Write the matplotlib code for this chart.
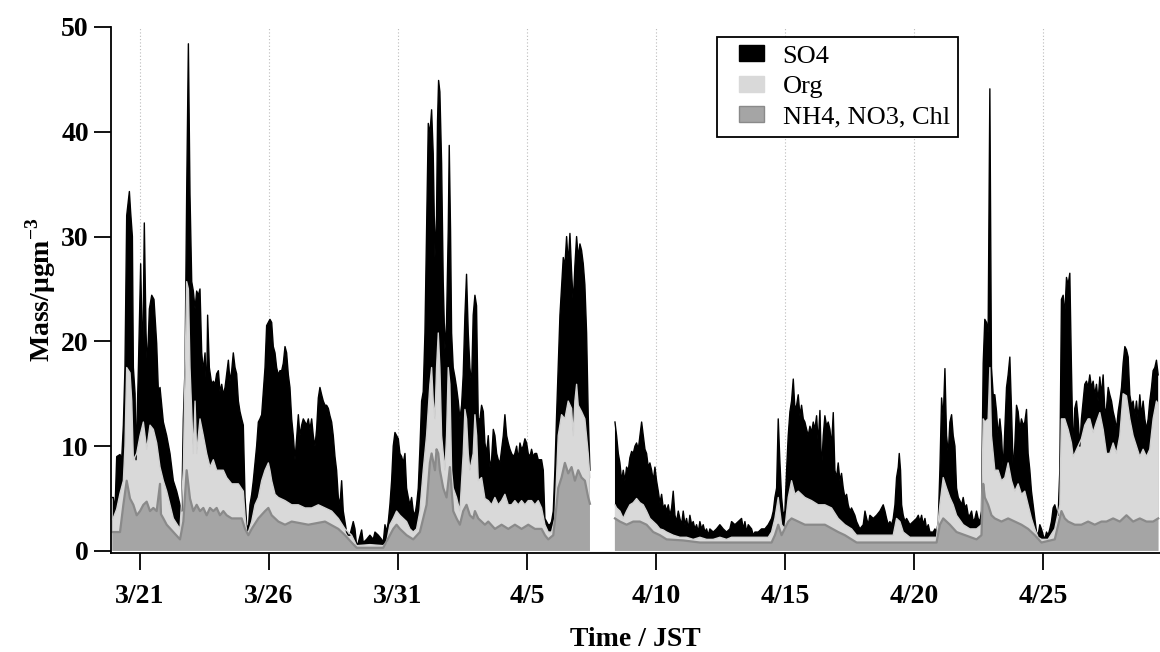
import numpy as np
import matplotlib.pyplot as plt
from matplotlib.patches import Patch, Rectangle
from matplotlib.legend_handler import HandlerPatch

plt.rcParams['font.family'] = ['Liberation Serif', 'DejaVu Serif']
plt.rcParams['mathtext.fontset'] = 'custom'
plt.rcParams['mathtext.rm'] = 'Liberation Serif'
plt.rcParams['mathtext.bf'] = 'Liberation Serif:bold'

# (hours since 3/21 00:00 JST, top of layer in ug/m3)
total_top = [
    (-25.4, 5.1), (-24.8, 5.1), (-23.3, 3.8), (-21.7, 9.0), (-18.6, 9.2), (-17.1, 8.7), (-15.5, 12.0),
    (-14.0, 17.5), (-12.4, 32.0), (-9.9, 34.3), (-8.7, 32.3), (-7.1, 30.0), (-6.2, 17.5), (-4.6, 15.0),
    (-3.7, 8.7), (-1.5, 17.5), (0.6, 27.4), (2.5, 17.5), (4.0, 31.3), (5.6, 20.8), (6.8, 17.5),
    (8.7, 23.1), (10.9, 24.4), (13.0, 24.0), (15.5, 19.8), (17.1, 15.2), (18.6, 15.6), (21.7, 12.3),
    (24.8, 11.0), (27.9, 9.3), (31.0, 6.7), (34.1, 5.7), (37.2, 4.4), (38.8, 3.8), (40.3, 12.6),
    (41.9, 17.5), (43.4, 34.0), (45.0, 48.4), (46.5, 34.0), (48.1, 25.7), (49.6, 24.8), (51.2, 23.1),
    (52.7, 24.8), (54.3, 24.4), (55.8, 25.0), (57.4, 18.9), (58.9, 17.2), (60.5, 18.9), (62.0, 14.9),
    (62.9, 22.5), (64.5, 17.5), (66.7, 15.9), (68.2, 16.2), (69.8, 15.9), (71.3, 16.9), (72.9, 17.2),
    (74.4, 15.2), (76.0, 15.9), (77.5, 14.9), (79.1, 15.6), (82.2, 18.2), (83.7, 16.2), (85.3, 17.2),
    (86.8, 18.9), (88.4, 17.5), (89.9, 16.9), (91.5, 14.3), (93.0, 13.3), (94.6, 12.6), (96.1, 12.0),
    (97.7, 5.1), (99.2, 2.5), (100.8, 2.1), (102.3, 4.4), (103.9, 5.4), (105.4, 6.7), (107.0, 8.4),
    (108.5, 10.0), (110.1, 12.3), (111.6, 12.6), (113.2, 13.0), (114.7, 15.2), (116.3, 17.5),
    (117.8, 21.5), (119.4, 21.8), (120.9, 22.1), (122.5, 21.8), (124.0, 19.5), (125.6, 18.9),
    (127.1, 17.5), (128.7, 16.8), (130.2, 17.2), (131.8, 17.2), (133.3, 17.9), (134.9, 19.5),
    (136.4, 18.9), (138.0, 16.8), (139.5, 15.6), (141.1, 12.6), (142.6, 11.0), (144.2, 8.7),
    (145.7, 10.7), (147.3, 13.0), (148.8, 11.0), (150.4, 12.0), (151.9, 12.6), (153.5, 12.3),
    (155.0, 12.0), (156.6, 12.6), (158.1, 11.6), (159.7, 12.6), (161.2, 11.0), (162.8, 10.0),
    (164.3, 11.6), (165.9, 14.6), (167.4, 15.6), (169.0, 14.9), (170.5, 14.3), (172.1, 13.9),
    (173.6, 13.9), (175.2, 13.6), (176.7, 12.9), (178.3, 12.3), (179.8, 11.0), (181.4, 9.0),
    (182.9, 7.7), (184.5, 5.1), (186.0, 4.4), (187.6, 6.7), (189.1, 3.8), (190.7, 2.8), (192.2, 1.8),
    (193.8, 1.5), (195.3, 1.5), (198.4, 2.8), (200.0, 2.1), (201.5, 0.5), (203.1, 0.8), (206.2, 2.0),
    (207.7, 0.8), (210.8, 1.1), (213.9, 1.5), (217.0, 1.1), (218.6, 1.8), (221.7, 1.5), (224.8, 1.1),
    (226.3, 0.8), (227.9, 2.5), (229.4, 1.8), (231.0, 2.8), (232.5, 4.4), (234.1, 6.7), (235.6, 10.0),
    (237.2, 11.3), (238.7, 11.0), (240.3, 10.7), (241.8, 9.3), (243.4, 9.0), (244.9, 8.4),
    (246.5, 9.3), (248.0, 6.0), (249.6, 5.1), (251.1, 4.4), (252.7, 5.1), (254.2, 3.8), (255.8, 3.4),
    (257.3, 4.4), (258.9, 6.0), (260.4, 9.7), (262.0, 14.3), (263.5, 15.2), (265.1, 20.8),
    (266.6, 30.7), (268.2, 40.8), (269.7, 39.8), (271.3, 42.1), (272.8, 37.9), (274.4, 28.0),
    (275.9, 32.0), (276.8, 41.0), (277.8, 44.9), (279.0, 43.8), (280.6, 37.0), (282.1, 25.7),
    (283.7, 19.2), (285.2, 21.8), (286.8, 30.7), (287.7, 38.7), (288.9, 30.7), (289.9, 20.8),
    (291.4, 17.5), (293.0, 16.6), (294.5, 15.6), (296.1, 14.3), (297.6, 12.6), (299.2, 13.9),
    (300.7, 16.8), (302.3, 22.5), (303.8, 26.4), (305.4, 20.8), (306.9, 17.5), (308.5, 15.9),
    (310.0, 22.5), (311.6, 24.4), (313.1, 23.4), (314.7, 12.6), (316.3, 12.6), (317.8, 13.9),
    (319.4, 13.3), (320.9, 10.3), (322.5, 9.3), (324.0, 11.0), (325.6, 8.0), (327.1, 8.7),
    (328.7, 11.6), (330.2, 11.0), (331.8, 9.3), (333.3, 8.7), (334.9, 8.4), (336.4, 9.7), (338.0, 11.0),
    (339.5, 13.0), (341.1, 11.0), (342.6, 10.3), (344.2, 9.7), (345.7, 9.3), (347.3, 9.0), (348.8, 9.3),
    (350.4, 10.0), (351.9, 8.7), (353.5, 10.3), (355.0, 9.7), (356.6, 10.0), (358.1, 10.7),
    (359.7, 10.3), (361.2, 9.3), (362.8, 9.0), (364.3, 9.7), (365.9, 9.0), (367.4, 9.3), (369.0, 9.3),
    (370.5, 8.7), (372.1, 8.7), (373.6, 8.7), (375.2, 7.7), (376.7, 3.1), (378.3, 2.8), (379.8, 2.5),
    (381.4, 2.5), (382.9, 2.8), (384.5, 3.8), (386.0, 7.7), (387.6, 13.0), (389.1, 17.5), (390.7, 22.5),
    (392.2, 25.2), (393.8, 28.0), (395.3, 27.2), (396.9, 30.0), (398.4, 27.4), (400.0, 30.3),
    (401.5, 26.7), (403.1, 23.6), (404.6, 27.2), (406.2, 30.0), (407.7, 28.0), (409.3, 29.3),
    (410.8, 28.7), (412.4, 27.4), (413.9, 25.4), (415.5, 20.8), (417.0, 13.0), (418.6, 7.7),
    (441.9, 12.3), (443.4, 11.0), (445.0, 9.3), (446.5, 8.4), (448.1, 6.7), (449.6, 7.7), (451.2, 6.7),
    (452.7, 8.0), (454.3, 7.7), (455.8, 8.9), (457.4, 9.5), (458.9, 9.3), (460.5, 10.0), (462.0, 10.3),
    (463.6, 9.7), (465.1, 11.0), (466.7, 12.3), (468.2, 11.0), (469.8, 9.7), (471.3, 9.3), (472.9, 8.0),
    (474.4, 8.4), (476.0, 7.7), (477.5, 6.7), (479.1, 8.0), (480.6, 6.7), (482.2, 5.7), (483.7, 4.6),
    (485.3, 5.4), (486.8, 4.1), (488.4, 4.4), (489.9, 3.8), (491.5, 4.4), (493.0, 3.4), (494.6, 4.1),
    (496.1, 5.7), (497.7, 3.4), (499.2, 2.8), (500.8, 3.8), (502.3, 3.1), (503.9, 2.5), (505.4, 3.8),
    (507.0, 2.5), (508.5, 3.1), (510.1, 2.1), (511.6, 3.4), (513.2, 2.5), (514.7, 2.8), (516.3, 2.1),
    (517.8, 2.5), (519.4, 1.8), (520.9, 2.8), (522.5, 2.1), (524.0, 2.5), (525.6, 1.8), (527.1, 2.1),
    (528.7, 1.5), (530.2, 2.1), (533.3, 1.8), (536.4, 2.1), (539.5, 2.5), (542.6, 2.1), (545.7, 1.8),
    (548.8, 2.1), (550.4, 2.8), (553.5, 2.5), (556.6, 2.8), (559.7, 3.1), (561.3, 2.1), (562.8, 2.8),
    (564.4, 1.8), (565.9, 2.5), (569.0, 2.1), (570.6, 1.5), (572.1, 1.8), (575.2, 1.8), (578.3, 2.1),
    (581.4, 2.1), (584.5, 2.5), (587.6, 3.1), (589.2, 3.8), (590.7, 5.1), (592.3, 6.0), (593.8, 12.6),
    (595.4, 8.4), (596.9, 5.1), (598.5, 3.4), (600.0, 3.8), (601.6, 7.7), (603.1, 11.0), (604.7, 13.3),
    (606.2, 14.3), (607.8, 16.4), (609.3, 13.6), (610.9, 13.9), (612.4, 14.9), (614.0, 12.9),
    (615.5, 13.9), (617.1, 12.6), (618.6, 12.3), (620.2, 11.6), (621.7, 11.0), (623.3, 11.9),
    (624.8, 11.3), (626.4, 12.3), (627.9, 11.6), (629.5, 12.9), (631.0, 10.3), (632.6, 13.4),
    (634.1, 7.7), (635.7, 11.0), (637.2, 12.9), (638.8, 11.9), (640.3, 12.3), (641.9, 11.6),
    (643.4, 10.0), (645.0, 13.2), (646.5, 7.7), (648.1, 7.0), (649.6, 8.4), (651.2, 6.7), (652.7, 7.4),
    (654.3, 6.0), (655.8, 5.1), (657.4, 5.4), (658.9, 4.4), (660.5, 3.8), (662.0, 4.1), (665.1, 3.4),
    (666.7, 2.8), (669.8, 2.1), (672.9, 2.5), (674.5, 3.8), (676.0, 3.1), (677.6, 2.5), (679.1, 3.4),
    (682.2, 3.1), (685.3, 3.4), (688.4, 3.8), (690.0, 4.1), (691.5, 4.4), (693.1, 3.8), (694.6, 3.1),
    (696.2, 2.5), (697.7, 2.8), (699.3, 2.5), (700.8, 3.1), (702.4, 4.4), (703.9, 7.0), (705.5, 8.0),
    (706.4, 9.3), (707.6, 7.7), (708.6, 4.4), (710.1, 3.4), (711.7, 2.8), (713.2, 3.1), (716.3, 2.5),
    (719.4, 2.8), (722.5, 3.1), (724.1, 3.4), (725.6, 2.8), (727.2, 3.4), (728.7, 2.5), (730.3, 3.1),
    (731.8, 2.1), (733.4, 2.5), (734.9, 1.8), (738.0, 1.8), (739.6, 2.1), (741.1, 1.8), (742.7, 2.8),
    (744.2, 7.7), (745.8, 14.6), (747.3, 12.6), (748.9, 17.4), (750.4, 11.0), (752.0, 9.3),
    (753.5, 12.3), (755.1, 13.0), (756.6, 11.0), (758.2, 10.0), (759.7, 6.0), (761.3, 5.1),
    (762.8, 4.8), (764.4, 4.4), (765.9, 5.1), (767.5, 4.1), (769.0, 4.4), (770.6, 3.4), (772.1, 3.4),
    (773.7, 3.8), (775.2, 2.8), (776.8, 3.1), (778.3, 3.8), (779.8, 3.1), (781.4, 2.8), (782.9, 3.8),
    (784.5, 17.9), (786.0, 22.1), (787.6, 21.8), (789.1, 20.8), (790.7, 44.1), (791.6, 27.4),
    (792.2, 17.5), (793.8, 14.9), (795.3, 14.9), (796.9, 13.3), (798.4, 11.0), (800.0, 12.6),
    (801.5, 11.0), (803.1, 7.7), (804.6, 11.6), (806.2, 15.6), (807.7, 16.8), (809.3, 18.5),
    (810.8, 13.6), (812.4, 7.7), (813.9, 10.0), (815.5, 13.9), (817.0, 13.3), (818.6, 11.6),
    (820.1, 12.6), (821.7, 12.0), (823.2, 12.3), (824.8, 13.5), (826.3, 9.3), (827.9, 7.7),
    (829.4, 5.7), (831.0, 4.4), (832.5, 3.1), (834.1, 1.8), (835.6, 1.5), (837.2, 2.5), (838.7, 2.1),
    (840.3, 1.5), (841.8, 1.1), (843.4, 1.8), (844.9, 1.5), (846.5, 2.1), (848.0, 2.8), (849.6, 4.1),
    (851.1, 4.4), (852.7, 3.8), (854.2, 3.4), (855.8, 7.7), (857.3, 24.0), (858.9, 24.4), (860.4, 22.5),
    (862.0, 26.1), (863.5, 25.4), (865.1, 26.5), (866.0, 20.8), (866.6, 17.5), (868.2, 9.3),
    (869.7, 13.6), (871.3, 14.3), (872.8, 12.6), (874.4, 10.0), (875.9, 12.6), (877.5, 14.3),
    (879.0, 15.9), (880.6, 16.2), (882.1, 15.6), (883.7, 16.8), (885.2, 15.6), (886.8, 16.2),
    (888.3, 14.9), (889.9, 15.9), (891.4, 14.3), (893.0, 16.6), (894.5, 14.9), (896.1, 16.8),
    (897.7, 13.3), (899.2, 13.6), (900.8, 15.6), (902.3, 14.9), (903.9, 14.3), (905.4, 13.3),
    (907.0, 12.6), (908.5, 11.6), (910.1, 13.3), (911.6, 14.3), (913.2, 15.6), (914.7, 17.9),
    (916.3, 19.5), (917.8, 19.2), (919.4, 18.5), (920.9, 14.9), (922.5, 13.9), (924.0, 14.3),
    (925.6, 12.9), (927.1, 14.3), (928.7, 12.6), (930.2, 14.9), (931.8, 12.9), (933.3, 14.3),
    (934.9, 12.6), (936.4, 11.6), (938.0, 12.6), (939.5, 14.3), (941.1, 15.6), (942.6, 17.2),
    (944.2, 17.5), (945.7, 18.2), (947.3, 16.8),
]

org_top = [
    (-25.4, 3.0), (-21.7, 4.0), (-18.6, 5.5), (-15.5, 6.7), (-14.0, 10.0), (-12.4, 17.5), (-9.3, 17.0),
    (-7.7, 14.3), (-6.2, 8.7), (-3.1, 9.3), (0.0, 11.0), (3.1, 12.3), (6.2, 9.7), (9.3, 12.0),
    (12.4, 11.6), (15.5, 10.3), (18.6, 8.0), (21.7, 6.7), (24.8, 5.7), (27.9, 4.4), (31.0, 3.1),
    (37.2, 2.1), (40.3, 7.7), (43.4, 25.7), (45.0, 25.0), (46.5, 17.5), (49.6, 9.3), (51.2, 14.3),
    (52.7, 9.3), (55.8, 12.6), (58.9, 11.0), (62.0, 9.3), (65.1, 8.0), (68.2, 8.7), (71.3, 7.7),
    (74.4, 7.7), (77.5, 7.7), (80.6, 7.0), (85.3, 6.4), (91.5, 6.4), (96.1, 5.7), (97.7, 3.4),
    (99.2, 1.8), (100.8, 1.8), (103.9, 2.8), (107.0, 4.4), (110.1, 5.1), (113.2, 6.7), (116.3, 7.7),
    (119.4, 8.4), (120.9, 7.7), (122.5, 6.7), (125.6, 5.4), (128.7, 5.1), (134.9, 4.8), (141.1, 4.4),
    (147.3, 4.4), (153.5, 4.1), (159.7, 4.1), (165.9, 4.4), (172.1, 4.1), (178.3, 3.8), (184.5, 3.1),
    (190.7, 2.1), (196.9, 1.5), (201.5, 0.5), (213.9, 0.6), (226.3, 0.5), (229.4, 0.8), (232.5, 2.5),
    (235.6, 3.1), (238.7, 3.8), (241.8, 3.4), (244.9, 3.1), (248.0, 2.8), (251.1, 2.1), (254.2, 1.8),
    (257.3, 2.1), (260.4, 3.8), (263.5, 7.7), (266.6, 11.0), (269.7, 15.9), (271.3, 17.5),
    (272.8, 14.3), (274.4, 12.6), (275.9, 17.5), (277.5, 20.8), (279.0, 17.5), (280.6, 11.0),
    (282.1, 9.3), (283.7, 7.7), (285.2, 11.0), (286.8, 17.5), (288.3, 15.9), (289.9, 7.7), (291.4, 6.0),
    (294.5, 5.1), (297.6, 3.8), (300.7, 9.3), (302.3, 13.5), (303.8, 12.6), (305.4, 9.3), (306.9, 7.7),
    (310.0, 9.3), (311.6, 13.0), (313.2, 11.0), (314.7, 6.7), (317.8, 7.0), (320.9, 5.0), (324.0, 4.8),
    (327.1, 4.4), (330.2, 5.1), (333.3, 4.4), (336.4, 4.8), (339.5, 5.4), (342.6, 4.4), (345.7, 4.4),
    (348.8, 4.8), (351.9, 4.4), (355.0, 4.8), (358.1, 4.4), (361.2, 4.8), (364.3, 4.8), (367.4, 4.4),
    (370.5, 4.8), (373.6, 4.1), (376.7, 2.5), (379.8, 1.8), (382.9, 1.8), (386.0, 3.1), (389.1, 11.0),
    (392.2, 13.0), (395.3, 12.6), (398.4, 14.3), (401.5, 13.6), (403.1, 11.0), (404.6, 14.3),
    (406.2, 15.9), (407.7, 13.9), (410.8, 13.3), (413.9, 12.6), (417.0, 9.3), (418.6, 7.0),
    (441.9, 4.4), (443.4, 4.1), (446.5, 3.8), (449.6, 3.1), (452.7, 3.8), (455.8, 4.4), (458.9, 4.6),
    (462.0, 5.0), (465.1, 4.6), (468.2, 4.4), (471.3, 3.8), (474.4, 3.1), (477.5, 2.8), (480.6, 2.5),
    (483.7, 2.1), (486.8, 2.0), (489.9, 1.8), (496.1, 1.5), (502.3, 1.3), (508.5, 1.3), (514.7, 1.1),
    (520.9, 1.3), (527.1, 1.1), (533.3, 1.1), (539.5, 1.3), (545.7, 1.1), (550.4, 1.3), (562.8, 1.3),
    (575.2, 1.3), (584.5, 1.3), (587.6, 1.8), (590.7, 3.1), (593.8, 5.1), (596.9, 2.5), (600.0, 2.1),
    (603.1, 5.1), (606.2, 6.7), (609.3, 5.4), (612.4, 5.7), (618.6, 5.1), (624.8, 4.8), (631.0, 4.4),
    (637.2, 4.4), (643.4, 4.1), (649.6, 3.1), (655.8, 2.5), (662.0, 2.1), (666.7, 1.5), (679.1, 1.5),
    (691.5, 1.5), (700.8, 1.5), (703.9, 3.1), (707.0, 2.8), (710.1, 1.8), (716.3, 1.3), (728.7, 1.3),
    (741.1, 1.3), (744.2, 4.4), (747.3, 7.0), (750.4, 6.0), (753.5, 5.1), (756.6, 4.4), (759.7, 3.4),
    (765.9, 2.5), (772.1, 2.1), (778.3, 2.1), (782.9, 2.5), (784.5, 12.6), (786.0, 12.3), (789.1, 12.6),
    (790.7, 17.5), (792.2, 11.0), (793.8, 9.3), (795.3, 7.7), (798.4, 7.7), (801.5, 6.7), (804.6, 7.0),
    (807.7, 8.4), (810.8, 6.7), (813.9, 5.7), (817.0, 6.4), (820.1, 5.4), (823.2, 5.7), (826.3, 4.4),
    (829.4, 3.1), (832.5, 2.1), (835.6, 1.3), (838.7, 1.1), (844.9, 1.1), (851.1, 2.1), (855.8, 4.4),
    (857.3, 12.6), (860.4, 12.6), (863.5, 11.6), (866.6, 10.3), (868.2, 9.0), (869.7, 9.3),
    (872.8, 10.0), (875.9, 10.7), (879.0, 12.0), (882.1, 12.6), (883.7, 12.6), (886.8, 11.3),
    (889.9, 12.3), (893.0, 13.2), (896.1, 11.6), (899.2, 9.3), (902.3, 9.3), (905.4, 10.3), (908.5, 9.3),
    (911.6, 11.0), (914.7, 15.0), (917.8, 14.8), (920.9, 12.6), (924.0, 11.0), (927.1, 10.0),
    (930.2, 9.0), (933.3, 9.7), (936.4, 9.0), (939.5, 9.7), (942.6, 12.6), (945.7, 14.3), (947.3, 14.0),
]

inorg_top = [
    (-25.4, 1.8), (-18.6, 1.8), (-15.5, 4.4), (-12.4, 6.7), (-9.3, 5.0), (-6.2, 4.4), (-3.1, 3.4),
    (0.0, 3.8), (3.1, 4.4), (6.2, 4.7), (9.3, 3.8), (12.4, 4.1), (15.5, 3.8), (18.6, 6.4), (19.5, 3.5),
    (21.7, 3.1), (24.8, 2.5), (31.0, 1.8), (37.2, 1.1), (40.3, 2.8), (43.4, 7.7), (46.5, 5.0),
    (49.6, 3.8), (52.7, 4.4), (55.8, 3.8), (58.9, 4.1), (62.0, 3.4), (65.1, 4.1), (68.2, 3.8),
    (71.3, 4.1), (74.4, 3.4), (77.5, 3.8), (80.6, 3.4), (85.3, 3.1), (94.6, 3.1), (97.7, 2.1),
    (100.8, 1.5), (103.9, 2.1), (110.1, 3.1), (116.3, 3.8), (119.4, 4.1), (122.5, 3.4), (128.7, 2.8),
    (134.9, 2.5), (141.1, 2.8), (156.6, 2.5), (172.1, 2.8), (184.5, 2.1), (190.7, 1.5), (196.9, 0.8),
    (201.5, 0.3), (226.3, 0.3), (232.5, 1.5), (235.6, 2.1), (238.7, 2.5), (241.8, 2.1), (248.0, 1.5),
    (254.2, 1.1), (260.4, 1.8), (263.5, 3.1), (266.6, 4.4), (269.7, 8.4), (271.3, 9.3), (274.4, 7.7),
    (275.9, 9.7), (277.5, 9.3), (279.0, 7.7), (282.1, 6.0), (285.2, 5.1), (288.3, 8.0), (291.4, 3.8),
    (294.5, 3.1), (297.6, 2.5), (300.7, 3.8), (303.8, 4.4), (306.9, 3.4), (310.0, 3.1), (311.6, 3.8),
    (314.7, 3.1), (317.8, 2.8), (320.9, 2.5), (324.0, 2.8), (330.2, 2.1), (336.4, 2.5), (342.6, 2.1),
    (348.8, 2.5), (355.0, 2.1), (361.2, 2.5), (367.4, 2.1), (373.6, 2.1), (376.7, 1.5), (379.8, 1.1),
    (384.5, 1.5), (387.6, 4.4), (389.1, 6.0), (392.2, 7.0), (395.3, 8.4), (398.4, 7.4), (401.5, 8.0),
    (404.6, 6.7), (407.7, 7.7), (410.8, 7.0), (413.9, 6.7), (417.0, 5.1), (418.6, 4.5),
    (441.9, 3.1), (446.5, 2.8), (452.7, 2.5), (458.9, 2.8), (465.1, 2.8), (471.3, 2.5), (477.5, 1.8),
    (483.7, 1.5), (489.9, 1.1), (505.4, 1.0), (520.9, 0.8), (545.7, 0.8), (550.4, 0.8), (587.6, 0.8),
    (590.7, 1.5), (593.8, 2.5), (596.9, 1.5), (603.1, 2.8), (606.2, 3.1), (612.4, 2.8), (618.6, 2.5),
    (624.8, 2.5), (631.0, 2.5), (637.2, 2.5), (649.6, 1.8), (655.8, 1.5), (662.0, 1.1), (666.7, 0.8),
    (741.1, 0.8), (744.2, 2.5), (747.3, 3.1), (753.5, 2.5), (759.7, 1.8), (778.3, 1.1), (782.9, 1.5),
    (784.5, 6.4), (786.0, 5.1), (789.1, 4.4), (792.2, 3.4), (795.3, 3.1), (801.5, 2.8), (807.7, 3.1),
    (813.9, 2.8), (820.1, 2.5), (826.3, 2.1), (832.5, 1.5), (838.7, 0.8), (851.1, 1.1), (857.3, 3.8),
    (860.4, 3.1), (863.5, 2.8), (869.7, 2.5), (875.9, 2.5), (882.1, 2.8), (888.3, 2.5), (894.5, 2.8),
    (899.2, 2.8), (905.4, 3.1), (911.6, 2.8), (917.8, 3.4), (924.0, 2.8), (930.2, 3.1), (936.4, 2.8),
    (942.6, 2.8), (947.3, 3.1),
]

gap_hour = 430  # no data between 4/7 and 4/8
tick_hours = [0, 120, 240, 360, 480, 600, 720, 840]
tick_labels = ['3/21', '3/26', '3/31', '4/5', '4/10', '4/15', '4/20', '4/25']
legend_labels = ['SO4', 'Org', 'NH4, NO3, Chl']


def draw_layer(ax, pairs, face, line, lw=1.0):
    arr = np.array(pairs, dtype=float)
    t, v = arr[:, 0], arr[:, 1]
    for seg in (t < gap_hour, t >= gap_hour):
        ax.fill_between(t[seg], 0, v[seg], facecolor=face, edgecolor='none', linewidth=0)
        ax.plot(t[seg], v[seg], color=line, linewidth=lw)


# legend swatch sits a bit inside the handle box, like the original
def swatch(legend, orig_handle, xdescent, ydescent, width, height, fontsize):
    return Rectangle((-xdescent + 9.5, -ydescent), 18, height)


fig = plt.figure(figsize=(11.6, 6.52), dpi=100)
ax = fig.add_axes([111 / 1160, 99 / 652, 1 - 111 / 1160, 526 / 652])

draw_layer(ax, total_top, 'black', 'black')
draw_layer(ax, org_top, '#d9d9d9', '#d2d2d2')
draw_layer(ax, inorg_top, '#a5a5a5', '#8a8a8a', lw=1.6)

ax.set_xlim(-27, 949)
ax.set_ylim(-0.2, 50)
ax.set_xticks(tick_hours)
ax.set_xticklabels(tick_labels)
ax.set_yticks([0, 10, 20, 30, 40, 50])
ax.grid(axis='x', color='#bbbbbb', linestyle=(0, (1, 2)), linewidth=0.8)
ax.set_axisbelow(True)

for side in ['top', 'right']:
    ax.spines[side].set_visible(False)
for side in ['left', 'bottom']:
    ax.spines[side].set_linewidth(1.3)
ax.tick_params(direction='out', length=12, width=1.3, labelsize=20)
ax.tick_params(axis='x', pad=10.5)
ax.tick_params(axis='y', pad=4)
for lab in ax.get_xticklabels() + ax.get_yticklabels():
    lab.set_fontweight('bold')

ax.set_xlabel('Time / JST', fontsize=20, fontweight='bold', labelpad=13)
ax.set_ylabel(r'Mass/μgm$^{\mathbf{-3}}$', fontsize=20, fontweight='bold', labelpad=2)

handles = [Patch(facecolor='black', edgecolor='black'),
           Patch(facecolor='#d9d9d9', edgecolor='#d9d9d9'),
           Patch(facecolor='#a5a5a5', edgecolor='#8a8a8a')]
leg = fig.legend(handles, legend_labels, loc='upper left',
                 bbox_to_anchor=(717 / 1160, 1 - 37 / 652), fontsize=19,
                 frameon=True, fancybox=False, framealpha=1, edgecolor='black',
                 handlelength=1.45, handleheight=0.55, handletextpad=0.72,
                 labelspacing=0.3, borderpad=0.32, borderaxespad=0,
                 handler_map={Patch: HandlerPatch(patch_func=swatch)})
leg.get_frame().set_linewidth(1.3)

fig.savefig('out.png', dpi=100)
